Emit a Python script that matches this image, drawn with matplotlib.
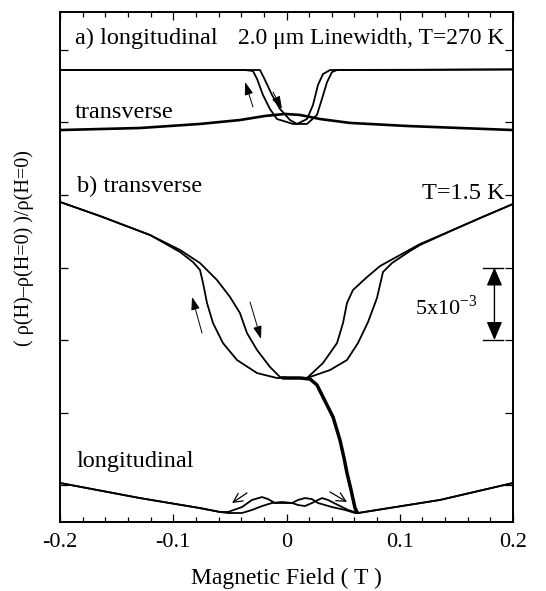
import matplotlib
matplotlib.use("Agg")
import matplotlib.pyplot as plt
from matplotlib.ticker import MultipleLocator

plt.rcParams['font.family'] = ['Liberation Serif', 'DejaVu Serif']
plt.rcParams['mathtext.fontset'] = 'custom'
plt.rcParams['mathtext.rm'] = 'Liberation Serif'

# ---- data (magnetic field in T, resistance change in units of 1e-3, offset per curve) ----
# (a) T=270 K, longitudinal, two sweep directions
a_long_down_x = [-0.200, -0.0764, -0.0366, -0.0296, -0.0260, -0.0208, -0.0146, -0.0084, 0.0004,
                 0.0057, 0.0093, 0.0181, 0.0234, 0.0278, 0.0322, 0.0384, 0.1002, 0.200]
a_long_down_y = [28.62, 28.62, 28.62, 28.55, 28.00, 26.90, 25.93, 25.24, 25.03,
                 24.90, 24.90, 25.24, 26.21, 27.59, 28.34, 28.62, 28.62, 28.66]
a_long_up_x = [-0.200, -0.0322, -0.0234, -0.0190, -0.0128, -0.0057, 0.0031, 0.0093, 0.0181,
               0.0269, 0.0313, 0.0358, 0.0402, 0.0446, 0.200]
a_long_up_y = [28.62, 28.62, 28.62, 27.93, 26.90, 25.93, 25.17, 24.90, 24.90,
               25.52, 26.62, 27.79, 28.48, 28.62, 28.66]
# (a) transverse
a_trans_x = [-0.200, -0.1294, -0.0764, -0.0411, -0.0190, -0.0013, 0.0119, 0.0296, 0.0561,
             0.1064, 0.1532, 0.200]
a_trans_y = [24.48, 24.62, 24.90, 25.17, 25.45, 25.59, 25.52, 25.24, 24.97,
             24.76, 24.62, 24.48]

# (b) T=1.5 K transverse, two sweep directions
b_trans_down_x = [-0.200, -0.1647, -0.1205, -0.0940, -0.0826, -0.0764, -0.0737, -0.0702, -0.0649,
                  -0.0561, -0.0437, -0.0260, -0.0084, 0.0031, 0.0181, 0.0322, 0.0446, 0.0499,
                  0.0534, 0.0587, 0.0711, 0.0826, 0.1002, 0.1179, 0.1470, 0.1709, 0.200]
b_trans_down_y = [19.52, 18.55, 17.24, 16.07, 15.38, 14.83, 13.93, 12.55, 11.17,
                  9.79, 8.62, 7.72, 7.38, 7.38, 7.38, 8.41, 9.79, 11.17,
                  12.55, 13.45, 14.34, 15.10, 15.86, 16.62, 17.59, 18.41, 19.38]
b_trans_up_x = [-0.200, -0.1647, -0.1205, -0.0940, -0.0764, -0.0614, -0.0499, -0.0411, -0.0349,
                -0.0260, -0.0146, -0.0057, 0.0031, 0.0181, 0.0384, 0.0534, 0.0631, 0.0720,
                0.0799, 0.0852, 0.0932, 0.1091, 0.1179, 0.1470, 0.1709, 0.200]
b_trans_up_y = [19.52, 18.55, 17.24, 16.21, 15.31, 14.14, 12.97, 11.86, 10.48,
                9.31, 8.14, 7.45, 7.38, 7.38, 7.93, 8.62, 9.79, 11.24,
                12.90, 14.69, 15.31, 16.14, 16.55, 17.59, 18.41, 19.38]
# (b) transition trace from transverse to longitudinal
b_switch_x = [-0.0031, 0.0119, 0.0208, 0.0269, 0.0322, 0.0411, 0.0472, 0.0508, 0.0534, 0.0570, 0.0605, 0.0623]
b_switch_y = [7.38, 7.38, 7.31, 6.90, 6.07, 4.69, 3.10, 1.86, 0.83, -0.34, -1.59, -1.86]
# (b) longitudinal, two sweep directions
b_long_1_x = [-0.200, -0.1294, -0.0764, -0.0587, -0.0517, -0.0393, -0.0305, -0.0216, -0.0163,
              -0.0102, -0.0013, 0.0049, 0.0102, 0.0163, 0.0225, 0.0278, 0.0402, 0.0517,
              0.0605, 0.0631, 0.1355, 0.200]
b_long_1_y = [0.14, -0.90, -1.59, -1.86, -1.86, -1.52, -1.03, -0.83, -0.97,
              -1.24, -1.24, -1.24, -1.03, -0.90, -0.97, -1.24, -1.52, -1.72,
              -1.93, -1.93, -1.03, 0.14]
b_long_2_x = [-0.200, -0.1294, -0.0764, -0.0587, -0.0517, -0.0393, -0.0305, -0.0216, -0.0128,
              -0.0040, 0.0049, 0.0102, 0.0163, 0.0225, 0.0313, 0.0366, 0.0455, 0.0543,
              0.0631, 0.1355, 0.200]
b_long_2_y = [0.14, -0.90, -1.59, -1.86, -1.93, -1.93, -1.72, -1.45, -1.24,
              -1.17, -1.24, -1.38, -1.45, -1.24, -0.90, -1.03, -1.38, -1.72,
              -1.93, -1.03, 0.14]

x_ticks = [-0.2, -0.1, 0, 0.1, 0.2]
x_tick_labels = ['-0.2', '-0.1', '0', '0.1', '0.2']
y_ticks = [0, 5, 10, 15, 20, 25, 30]
scale_bar = (10.0, 15.0)   # 5x10^-3

fig = plt.figure(figsize=(5.46, 5.91), dpi=100)
ax = fig.add_axes([60/546, 1-522/591, 453/546, 510/591])

thin = dict(color='black', lw=1.3, solid_capstyle='round', solid_joinstyle='round')
ax.plot(a_long_down_x, a_long_down_y, **thin)
ax.plot(a_long_up_x, a_long_up_y, **thin)
ax.plot(a_trans_x, a_trans_y, color='black', lw=1.9, solid_joinstyle='round')
ax.plot(b_trans_down_x, b_trans_down_y, **thin)
ax.plot(b_trans_up_x, b_trans_up_y, **thin)
ax.plot(b_switch_x, b_switch_y, color='black', lw=2.5, solid_capstyle='round', solid_joinstyle='round')
ax.plot(b_long_1_x, b_long_1_y, **thin)
ax.plot(b_long_2_x, b_long_2_y, **thin)

ax.set_xlim(-0.2, 0.2)
ax.set_ylim(-2.55, 32.62)
ax.set_xticks(x_ticks)
ax.set_xticklabels(x_tick_labels)
ax.xaxis.set_minor_locator(MultipleLocator(0.02))
ax.set_yticks(y_ticks)
ax.set_yticklabels([])
ax.tick_params(which='both', direction='in', top=True, right=True, width=0.9)
ax.tick_params(which='major', length=6, labelsize=16, pad=8)
ax.tick_params(which='minor', length=3.5)
for s in ax.spines.values():
    s.set_linewidth(1.4)

# sweep-direction arrows
arr_filled = dict(arrowstyle='-|>,head_length=0.6,head_width=0.2', color='black', lw=0.7,
                  mutation_scale=13, shrinkA=0, shrinkB=0)
arr_open = dict(arrowstyle='->,head_length=0.5,head_width=0.25', color='black', lw=0.9,
                mutation_scale=13, shrinkA=0, shrinkB=0)
for tail, tip in [((-0.0296, 26.07), (-0.0366, 27.79)),
                  ((-0.0119, 27.10), (-0.0040, 25.93)),
                  ((-0.0746, 10.48), (-0.0834, 12.97)),
                  ((-0.0322, 12.62), (-0.0225, 10.07))]:
    ax.annotate('', xy=tip, xytext=tail, arrowprops=arr_filled)
for tail, tip in [((-0.0349, -0.55), (-0.0481, -1.24)),
                  ((0.0384, -0.48), (0.0534, -1.17))]:
    ax.annotate('', xy=tip, xytext=tail, arrowprops=arr_open)

# scale bar 5x10^-3
ax.plot([0.1735, 0.1912], [scale_bar[1]] * 2, color='black', lw=1.0)
ax.plot([0.1735, 0.1912], [scale_bar[0]] * 2, color='black', lw=1.0)
ax.annotate('', xy=(0.1836, scale_bar[0]), xytext=(0.1836, scale_bar[1]),
            arrowprops=dict(arrowstyle='<|-|>,head_length=0.7,head_width=0.3', color='black',
                            lw=1.0, mutation_scale=16, shrinkA=0, shrinkB=0))
ax.text(0.169, 11.75, r'5x10$^{\mathregular{-3}}$', ha='right', va='baseline', fontsize=16)

fs = 17.5
ax.text(0.033, 0.937, 'a) longitudinal', transform=ax.transAxes, fontsize=fs, va='baseline')
ax.text(0.982, 0.937, '2.0 \u03bcm Linewidth, T=270 K', transform=ax.transAxes, fontsize=17,
        va='baseline', ha='right')
ax.text(0.033, 0.792, 'transverse', transform=ax.transAxes, fontsize=fs, va='baseline')
ax.text(0.037, 0.647, 'b) transverse', transform=ax.transAxes, fontsize=fs, va='baseline')
ax.text(0.982, 0.633, 'T=1.5 K', transform=ax.transAxes, fontsize=fs, va='baseline', ha='right')
ax.text(0.037, 0.108, 'longitudinal', transform=ax.transAxes, fontsize=fs, va='baseline')

fig.text(286/546, 1-578/591, 'Magnetic Field ( T )', ha='center', va='center', fontsize=17)
fig.text(24/546, 1-248/591, '( \u03c1(H)\u2013\u03c1(H=0) )/\u03c1(H=0)', ha='center', va='center',
         rotation=90, fontsize=14.5)

fig.savefig('out.png', dpi=100)
